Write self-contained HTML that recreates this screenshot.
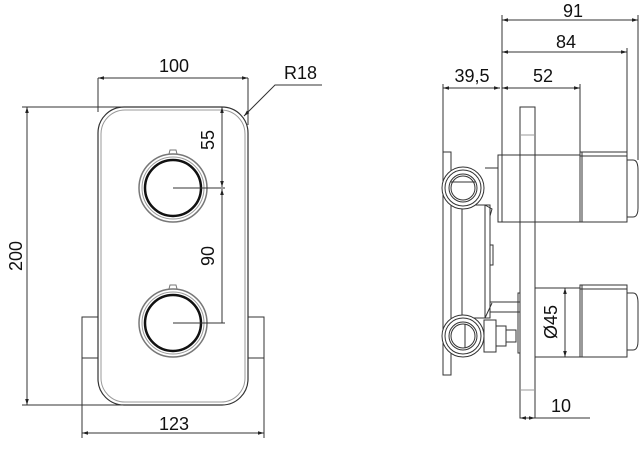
<!DOCTYPE html>
<html><head><meta charset="utf-8"><style>
html,body{margin:0;padding:0;background:#fff;}
svg{display:block;}
text{font-family:"Liberation Sans",sans-serif;font-size:18px;fill:#111;}
</style></head><body>
<svg width="642" height="449" viewBox="0 0 642 449" xmlns="http://www.w3.org/2000/svg">
<defs>
<marker id="a" viewBox="0 0 10 10" refX="10" refY="5" markerWidth="6" markerHeight="6" orient="auto-start-reverse"><path d="M0,2 L10,5 L0,8 z" fill="#222"/></marker>
</defs>
<g fill="none" stroke="#333" stroke-width="1">
<rect x="98" y="107" width="150" height="298" rx="26" stroke-width="1.2"/>
<rect x="101" y="110" width="144" height="292" rx="24" stroke="#999"/>
<rect x="82" y="317" width="16" height="41"/>
<rect x="248" y="317" width="16" height="41"/>
<circle cx="173" cy="188" r="34" stroke="#777" stroke-width="1.5"/>
<circle cx="173" cy="188" r="31" stroke="#999"/>
<circle cx="173" cy="188" r="28" stroke="#111" stroke-width="2.5"/>
<path d="M169,154 L170,150 L176,150 L177,154" stroke="#777"/>
<circle cx="173" cy="323" r="34" stroke="#777" stroke-width="1.5"/>
<circle cx="173" cy="323" r="31" stroke="#999"/>
<circle cx="173" cy="323" r="28" stroke="#111" stroke-width="2.5"/>
<path d="M169,289 L170,285 L176,285 L177,289" stroke="#777"/>
<line x1="173" y1="188" x2="225" y2="188"/>
<line x1="173" y1="323" x2="225" y2="323"/>
<line x1="98" y1="78" x2="98" y2="112"/>
<line x1="248" y1="78" x2="248" y2="125"/>
<line x1="98" y1="78" x2="248" y2="78" marker-start="url(#a)" marker-end="url(#a)"/>
<line x1="22" y1="107" x2="130" y2="107"/>
<line x1="22" y1="405" x2="130" y2="405"/>
<line x1="27" y1="107" x2="27" y2="405" marker-start="url(#a)" marker-end="url(#a)"/>
<line x1="222" y1="107" x2="222" y2="187" marker-start="url(#a)" marker-end="url(#a)"/>
<line x1="222" y1="189" x2="222" y2="323" marker-start="url(#a)"/>
<line x1="82" y1="358" x2="82" y2="438"/>
<line x1="264" y1="358" x2="264" y2="438"/>
<line x1="82" y1="433" x2="264" y2="433" marker-start="url(#a)" marker-end="url(#a)"/>
<polyline points="244,116 275,85 322,85" marker-start="url(#a)"/>
<rect x="520" y="107" width="15" height="311"/>
<line x1="520" y1="135" x2="535" y2="135" stroke="#999"/>
<line x1="520" y1="390" x2="535" y2="390" stroke="#999"/>
<rect x="498" y="155" width="82" height="67"/>
<line x1="502" y1="155" x2="502" y2="222"/>
<rect x="580" y="152" width="47" height="70"/>
<line x1="582" y1="152" x2="582" y2="222"/>
<line x1="580" y1="156" x2="627" y2="156"/>
<path d="M627,160 L633,160 Q638,160 638,170 L638,208 Q638,217 633,217 L627,217"/>
<rect x="535" y="288" width="45" height="69"/>
<rect x="580" y="285" width="47" height="72"/>
<line x1="582" y1="285" x2="582" y2="357"/>
<line x1="580" y1="289" x2="627" y2="289"/>
<path d="M627,293 L633,293 Q638,293 638,303 L638,341 Q638,350 633,350 L627,350"/>
<rect x="518" y="293" width="2" height="60"/>
<rect x="443" y="152" width="8" height="223"/>
<rect x="462" y="205" width="28" height="113"/>
<line x1="485" y1="205" x2="485" y2="318"/>
<rect x="490" y="245" width="3" height="20"/>
<path d="M485,205 L492,209 L490,216"/>
<path d="M485,318 L492,303"/>
<line x1="485" y1="168" x2="498" y2="168"/>
<line x1="490" y1="302" x2="520" y2="302"/>
<line x1="490" y1="312" x2="520" y2="312"/>
<circle cx="463" cy="188" r="21" fill="#fff"/>
<circle cx="463" cy="188" r="18"/>
<circle cx="463" cy="188" r="14"/>
<circle cx="463" cy="188" r="12"/>
<line x1="451" y1="182" x2="475" y2="182"/>
<circle cx="463" cy="336" r="21" fill="#fff"/>
<circle cx="463" cy="336" r="18"/>
<circle cx="463" cy="336" r="14"/>
<circle cx="463" cy="336" r="12"/>
<line x1="465" y1="324" x2="465" y2="348"/>
<rect x="484" y="320" width="12" height="32"/>
<rect x="496" y="326" width="10" height="20"/>
<rect x="506" y="330" width="10" height="12"/>
<line x1="502" y1="15" x2="502" y2="155"/>
<line x1="638" y1="15" x2="638" y2="160"/>
<line x1="627" y1="48" x2="627" y2="152"/>
<line x1="580" y1="84" x2="580" y2="152"/>
<line x1="443" y1="84" x2="443" y2="152"/>
<line x1="502" y1="20" x2="638" y2="20" marker-start="url(#a)" marker-end="url(#a)"/>
<line x1="502" y1="52" x2="627" y2="52" marker-start="url(#a)" marker-end="url(#a)"/>
<line x1="502" y1="88" x2="580" y2="88" marker-start="url(#a)" marker-end="url(#a)"/>
<line x1="443" y1="88" x2="500" y2="88" marker-start="url(#a)" marker-end="url(#a)"/>
<line x1="565" y1="288" x2="565" y2="357" marker-start="url(#a)" marker-end="url(#a)"/>
<line x1="520" y1="418" x2="535" y2="418" marker-start="url(#a)" marker-end="url(#a)"/>
<line x1="535" y1="418" x2="590" y2="418"/>
</g>
<text x="174" y="72" text-anchor="middle">100</text>
<text x="284" y="79">R18</text>
<text x="174" y="430" text-anchor="middle">123</text>
<text transform="translate(22,256) rotate(-90)" text-anchor="middle">200</text>
<text transform="translate(214,140) rotate(-90)" text-anchor="middle">55</text>
<text transform="translate(214,256) rotate(-90)" text-anchor="middle">90</text>
<text x="573" y="17" text-anchor="middle">91</text>
<text x="566" y="48" text-anchor="middle">84</text>
<text x="543" y="82" text-anchor="middle">52</text>
<text x="472" y="82" text-anchor="middle">39,5</text>
<text transform="translate(557,322) rotate(-90)" text-anchor="middle">Ø45</text>
<text x="561" y="412" text-anchor="middle">10</text>
</svg>
</body></html>
